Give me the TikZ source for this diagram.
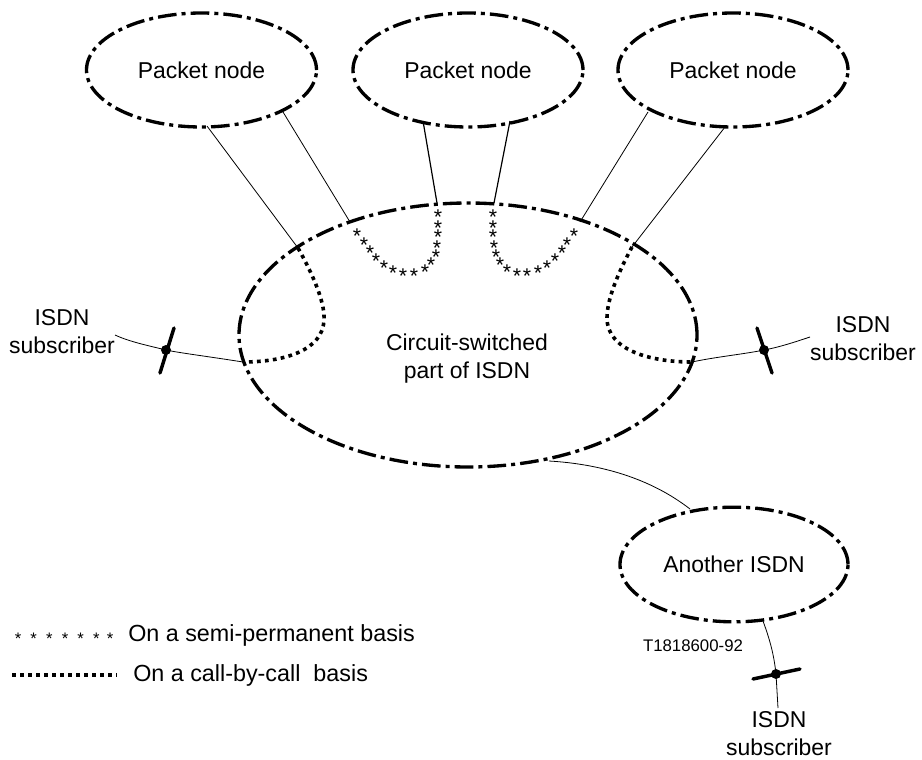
\documentclass[tikz,border=0pt]{standalone}
\usepackage{fontspec}
\setmainfont{Liberation Sans}
\usetikzlibrary{shapes.geometric}
\newcommand{\lblfont}{\fontsize{17.2}{21}\selectfont}
\tikzset{
  dd/.style={draw=black,line width=2.5pt,dash pattern=on 14pt off 3.8pt on 3pt off 3.8pt},
  cloud oval/.style={ellipse,dd,inner sep=0pt,outer sep=0pt,font=\lblfont,align=center},
  packetnode/.style={cloud oval,minimum width=172.5pt,minimum height=85.5pt},
  thinline/.style={draw=black,line width=0.6pt},
  midline/.style={draw=black,line width=0.9pt},
  callline/.style={draw=black,line width=2.7pt,dash pattern=on 2.8pt off 3.2pt},
  crossbar/.style={draw=black,line width=2.6pt,line cap=round},
  jointdot/.style={circle,fill=black,inner sep=0pt,minimum size=7.5pt},
  lbl/.style={font=\lblfont,align=center,inner sep=0pt},
  legtext/.style={font=\fontsize{17.5}{21}\selectfont,inner sep=0pt,anchor=west},
  starmark/.style={font=\fontsize{16}{16}\selectfont,inner sep=0pt,anchor=base,yshift=-9.2pt},
  legstar/.style={font=\fontsize{12.5}{13}\selectfont,inner sep=0pt,anchor=base,yshift=-7.2pt},
}
\begin{document}
\begin{tikzpicture}[x=0.75pt,y=-0.75pt]
\useasboundingbox (0,0) rectangle (922,760);
% ovals
\node[packetnode] (p1) at (201.5,70) {Packet node};
\node[packetnode] (p2) at (468,70) {Packet node};
\node[packetnode] (p3) at (733,70) {Packet node};
\node[cloud oval,minimum width=343.5pt,minimum height=198pt] (main) at (468,335) {};
\node[lbl] (maintext) at (467,359) {Circuit-switched\\part of ISDN};
\node[cloud oval,minimum width=171pt,minimum height=86pt] (other) at (734,564.5) {Another ISDN};
% anchors on the ovals
\coordinate (a1) at (207,126);
\coordinate (b1) at (298,248);
\coordinate (a2) at (283,112);
\coordinate (b2) at (350,222);
\coordinate (a3) at (423,121);
\coordinate (b3) at (437,203);
\coordinate (a4) at (510,121);
\coordinate (b4) at (494,203);
\coordinate (a5) at (648,112);
\coordinate (b5) at (580,222);
\coordinate (a6) at (725,127);
\coordinate (b6) at (632,247);
\draw[thinline] (a1) -- (b1);
\draw[thinline] (a2) -- (b2);
\draw[midline] (a3) -- (b3);
\draw[midline] (a4) -- (b4);
\draw[thinline] (a5) -- (b5);
\draw[thinline] (a6) -- (b6);
% call-by-call loops
\coordinate (ll) at (243,362);
\coordinate (rl) at (692,362);
\draw[callline] (b1) .. controls (316,280) and (325,305) .. (324,320) .. controls (323,350) and (285,362) .. (ll);
\draw[callline] (b6) .. controls (617,275) and (607,300) .. (607,318) .. controls (607,350) and (650,362) .. (rl);
% semi-permanent stars
\foreach \n/\p in {1/{357,231},2/{364,240},3/{370,248},4/{376,256},5/{384,263},6/{393,268},7/{403,271},8/{414,271},9/{425,267},10/{431,260},11/{436,252},12/{437,243},13/{438,232},14/{438,223},15/{438,212}}
  \node[starmark] (sl\n) at (\p) {*};
\foreach \n/\p in {1/{493,212},2/{493,223},3/{493,232},4/{494,243},5/{496,252},6/{500,260},7/{507,267},8/{517,271},9/{527,271},10/{538,268},11/{547,263},12/{555,256},13/{562,248},14/{567,240},15/{574,231}}
  \node[starmark] (sr\n) at (\p) {*};
% subscribers
\node[jointdot] (jl) at (166,350) {};
\node[jointdot] (jr) at (764,350) {};
\node[jointdot] (jb) at (776,674) {};
\coordinate (sl) at (115,335);
\coordinate (sr) at (810,337);
\coordinate (sb) at (778,708);
\coordinate (ob) at (763,621);
\draw[thinline] (sl) .. controls (130,342) and (150,346) .. (jl.center) .. controls (180,353) and (205,356) .. (ll);
\draw[thinline] (sr) .. controls (795,342) and (780,347) .. (jr.center) .. controls (745,354) and (715,357) .. (rl);
\draw[thinline] (ob) .. controls (770,640) and (774,655) .. (jb.center) -- (sb);
\coordinate (x1a) at (174,328); \coordinate (x1b) at (160,373);
\coordinate (x2a) at (757,328); \coordinate (x2b) at (772,373);
\coordinate (x3a) at (753,679); \coordinate (x3b) at (800,669);
\draw[crossbar] (x1a) -- (x1b);
\draw[crossbar] (x2a) -- (x2b);
\draw[crossbar] (x3a) -- (x3b);
% link between networks
\coordinate (m1) at (549,461);
\coordinate (o1) at (690,509);
\draw[thinline] (m1) .. controls (600,464) and (650,478) .. (o1);
% labels
\node[lbl] (tl) at (62,332) {ISDN\\subscriber};
\node[lbl] (tr) at (863,339) {ISDN\\subscriber};
\node[lbl] (tb) at (779,734) {ISDN\\subscriber};
\node[font=\fontsize{12.6}{14}\selectfont,inner sep=0pt] (code) at (693,646) {T1818600-92};
% legend
\foreach \n/\x in {1/18,2/33.7,3/49.4,4/65,5/80.7,6/96.4,7/110}
  \node[legstar] (ls\n) at (\x,635) {*};
\node[legtext] (lt1) at (128,635) {On a semi-permanent basis};
\coordinate (d1) at (12,675);
\coordinate (d2) at (117,675);
\draw[callline] (d1) -- (d2);
\node[legtext] (lt2) at (133,675) {On a call-by-call\ \ basis};
\end{tikzpicture}
\end{document}
